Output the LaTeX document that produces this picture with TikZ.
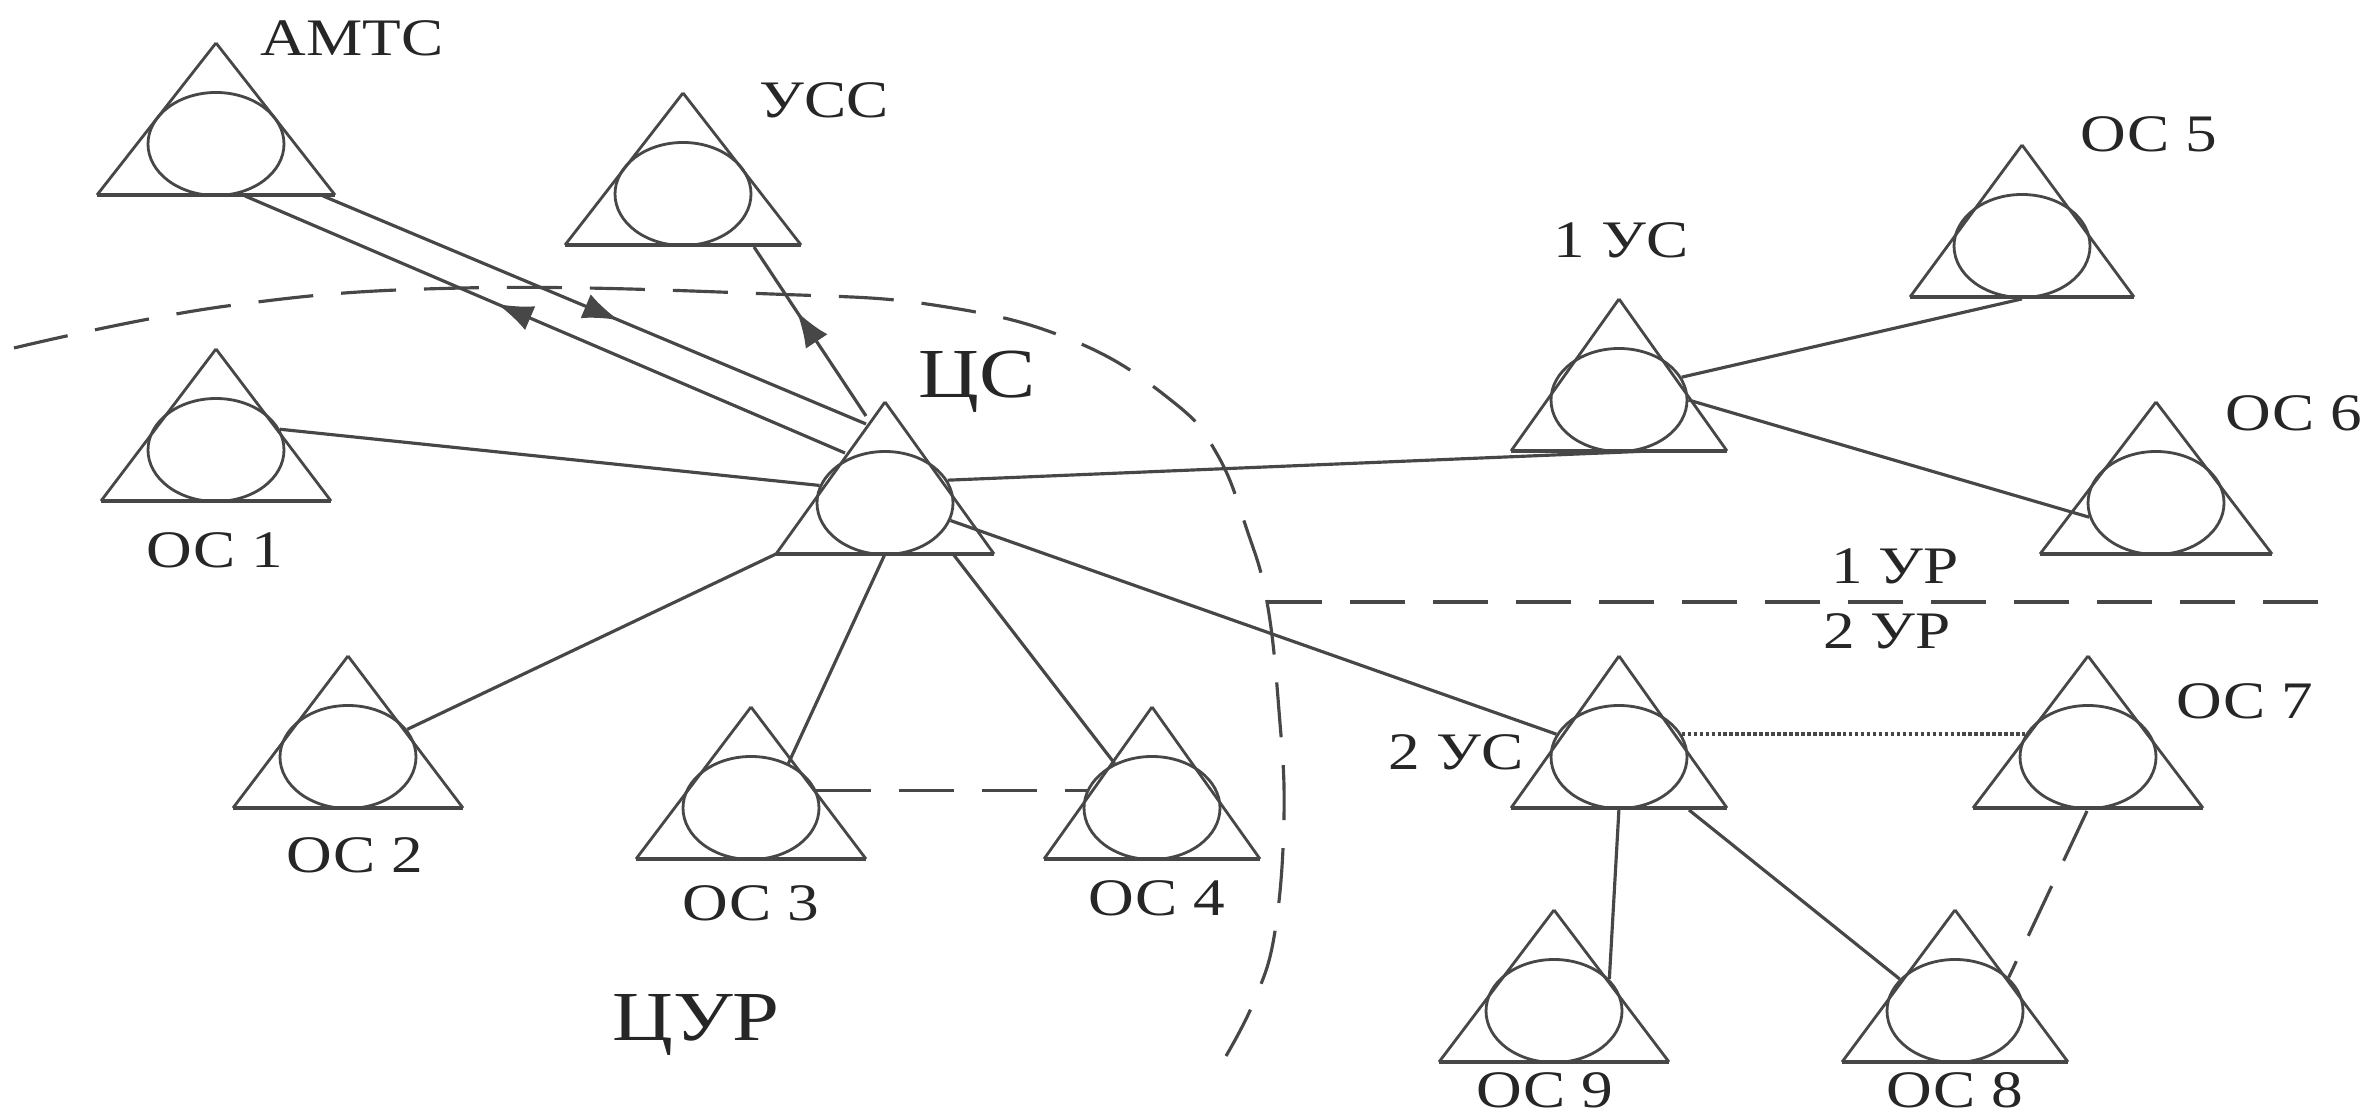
\documentclass[tikz,border=0pt]{standalone}
\usepackage{fontspec}
\setmainfont{Liberation Serif}
\usetikzlibrary{calc,shapes.geometric,arrows.meta,decorations.markings}

\definecolor{inkgray}{gray}{0.28}
\tikzset{
  station/.style={ellipse, draw=inkgray, line width=0.8pt, minimum width=1.36cm, minimum height=1.03cm, inner sep=0pt},
  link/.style={draw=inkgray, line width=0.9pt},
  dashlink/.style={link, dash pattern=on 0.55cm off 0.28cm},
  dotlink/.style={link, line width=1.3pt, dash pattern=on 1pt off 0.7pt},
  tag/.style={font=\fontsize{15}{17}\selectfont, text=black!85, inner sep=0pt, xscale=1.2, transform shape},
  bigtag/.style={tag, font=\fontsize{20}{22}\selectfont},
  arrowat/.style={postaction={decorate}, decoration={markings, mark=at position #1 with {\arrow{Latex[length=3.6mm,width=2.6mm]}}}}
}
% ellipse in a triangle: name, x, y, half of the base
\newcommand{\station}[4][1.15]{
  \node (#2) [station] at (#3, #4) {};
  \draw[draw=inkgray, line width=0.8pt] ($(#2.center)+(0,1.01)$) -- ($(#2.center)+(-#1,-0.51)$);
  \draw[draw=inkgray, line width=0.8pt] ($(#2.center)+(0,1.01)$) -- ($(#2.center)+(#1,-0.51)$);
  \draw[draw=inkgray, line width=1.4pt] ($(#2.center)+(-#1,-0.51)$) -- ($(#2.center)+(#1,-0.51)$);
  \coordinate (#2w) at ($(#2.center)+(-#1,-0.51)$);
}

\begin{document}
\begin{tikzpicture}
  \useasboundingbox (0, 0) rectangle (23.71, 11.18);

  \station[1.19]{amts}{2.16}{9.74}
  \station[1.18]{ycc}{6.83}{9.24}
  \station{oc1}{2.16}{6.68}
  \station{oc2}{3.48}{3.61}
  \station{oc3}{7.51}{3.10}
  \station[1.08]{oc4}{11.52}{3.10}
  \station[1.09]{cs}{8.85}{6.15}
  \station[1.08]{us1}{16.19}{7.18}
  \station[1.12]{oc5}{20.22}{8.72}
  \station[1.16]{oc6}{21.56}{6.15}
  \station[1.08]{us2}{16.19}{3.61}
  \station{oc7}{20.88}{3.61}
  \station[1.13]{oc8}{19.55}{1.07}
  \station{oc9}{15.54}{1.07}

  \node (amtstag) [tag] at (3.52, 10.80) {АМТС};
  \node (ycctag) [tag] at (8.24, 10.18) {УСС};
  \node (cstag) [bigtag] at (9.77, 7.36) {ЦС};
  \node (curtag) [bigtag] at (6.96, 0.93) {ЦУР};
  \node (oc1tag) [tag] at (2.15, 5.68) {ОС 1};
  \node (oc2tag) [tag] at (3.55, 2.63) {ОС 2};
  \node (oc3tag) [tag] at (7.51, 2.15) {ОС 3};
  \node (oc4tag) [tag] at (11.57, 2.20) {ОС 4};
  \node (us1tag) [tag] at (16.21, 8.78) {1 УС};
  \node (oc5tag) [tag] at (21.49, 9.84) {ОС 5};
  \node (oc6tag) [tag] at (22.94, 7.05) {ОС 6};
  \node (ur1tag) [tag] at (18.95, 5.52) {1 УР};
  \node (ur2tag) [tag] at (18.87, 4.87) {2 УР};
  \node (us2tag) [tag] at (14.56, 3.66) {2 УС};
  \node (oc7tag) [tag] at (22.45, 4.17) {ОС 7};
  \node (oc8tag) [tag] at (19.55, 0.28) {ОС 8};
  \node (oc9tag) [tag] at (15.45, 0.28) {ОС 9};

  % free ends on the triangles
  \coordinate (amtslow) at (2.45, 9.22);
  \coordinate (amtshigh) at (3.23, 9.22);
  \coordinate (cslow) at (8.45, 6.65);
  \coordinate (cshigh) at (8.66, 6.94);
  \coordinate (ycclow) at (7.54, 8.71);
  \coordinate (cstop) at (8.66, 7.02);
  \coordinate (csbase) at (8.85, 5.64);
  \coordinate (csbaser) at (9.53, 5.64);
  \coordinate (us1low) at (16.50, 6.67);
  \coordinate (us2base) at (16.19, 3.10);
  \coordinate (us2baser) at (16.89, 3.08);
  \coordinate (oc7base) at (20.87, 3.07);
  \coordinate (curveend) at (12.67, 5.16);
  \coordinate (lineend) at (23.21, 5.16);

  \draw[link, arrowat=0.58] (cslow) to (amtslow);
  \draw[link, arrowat=0.545] (amtshigh) to (cshigh);
  \draw[link, arrowat=0.62] (cstop) to (ycclow);

  \draw[link] (oc1.18) to (cs.165);
  \draw[link] (csw) to (oc2.25);
  \draw[link] (csbase) to (oc3.50);
  \draw[link] (csbaser) to (oc4.130);
  \draw[link] (cs.20) to (us1low);
  \draw[link] (cs.-15) to (us2.160);
  \draw[link] (us1.20) to (oc5.south);
  \draw[link] (us1.east) to (oc6.192);
  \draw[dotlink] (us2.20) to (oc7.160);
  \draw[link] (us2base) to (oc9.30);
  \draw[link] (us2baser) to (oc8.150);
  \draw[dashlink] (oc3.15) to (oc4.165);
  \draw[dashlink] (oc7base) to (oc8.32);

  \draw[dashlink] plot[smooth, tension=0.7] coordinates {(0.14, 7.70) (2.27, 8.12) (4.63, 8.30) (7.71, 8.24) (9.40, 8.12) (10.74, 7.77) (11.72, 7.17) (12.17, 6.64) (12.47, 5.88) (12.67, 5.16) (12.79, 4.07) (12.84, 3.02) (12.75, 1.87) (12.55, 1.19) (12.26, 0.62)};
  \draw[dashlink] (curveend) to (lineend);
\end{tikzpicture}
\end{document}
